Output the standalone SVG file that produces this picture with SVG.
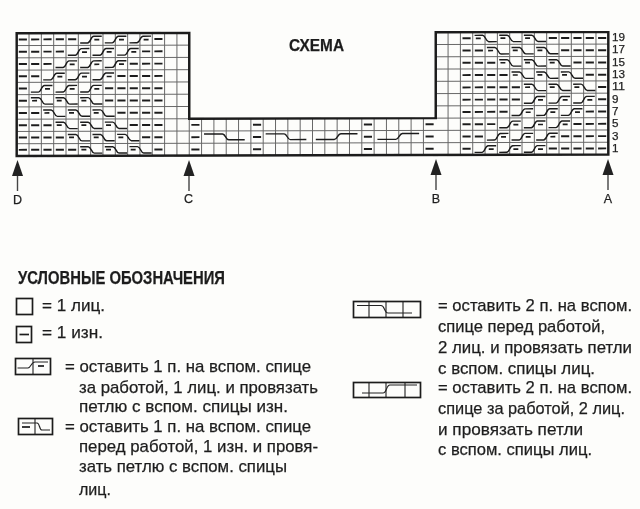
<svg xmlns="http://www.w3.org/2000/svg" xmlns:xlink="http://www.w3.org/1999/xlink" width="640" height="509" viewBox="0 0 640 509">
<style>
text{font-family:"Liberation Sans",Arial,sans-serif;fill:#1f1f1f;stroke:#1f1f1f;stroke-width:.25px}
.t{font-size:17px}
.b{font-weight:700}
.n{font-size:11.5px}
.l{font-size:12.5px}
.g{fill:none;stroke:#666;stroke-width:.08}
.o{fill:none;stroke:#1c1c1c;stroke-width:.2}
.d{fill:none;stroke:#1f1f1f;stroke-width:.16;stroke-dasharray:.66 .34}
.c{fill:none;stroke:#1a1a1a;stroke-width:.115}
.m{fill:none;stroke:#1a1a1a;stroke-width:.14}
.a{fill:#222}
.s{stroke:#444;stroke-width:1.4;fill:none}
.x{fill:none;stroke:#1c1c1c;stroke-width:1.7}
.y{fill:none;stroke:#222;stroke-width:1.1}
</style>
<defs>
<filter id="soft" x="0" y="0" width="1" height="1"><feGaussianBlur stdDeviation=".3"/></filter>
<g id="T"><path class="c" d="M.15 .8H.75C1 .8 1 .26 1.25 .26H1.9"/><path class="m" d="M1.3 .54H1.7"/></g>
<g id="S"><path class="c" d="M.15 .26H.8C1.05 .26 1.05 .78 1.3 .78H1.95"/><path class="m" d="M.25 .5H.65"/></g>
<path id="LS" class="c" d="M.2 .25H1.7C1.95 .25 1.95 .72 2.2 .72H3.5"/>
<path id="LT" class="c" d="M.27 .72H1.76C2.03 .72 2.03 .25 2.3 .25H3.65"/>
<g id="arr"><path class="s" d="M0 14V31"/><path class="a" d="M0 0L5.5 16H-5.5Z"/></g>
</defs>
<rect width="640" height="509" fill="#fdfdfb"/>
<g id="page" filter="url(#soft)">
<g id="chart" transform="matrix(12.325 -.031 0 12.27 16.7 33.3)">
<path class="g" d="M0 1H14M34 1H48M0 2H14M34 2H48M0 3H14M34 3H48M0 4H14M34 4H48M0 5H14M34 5H48M0 6H14M34 6H48M0 7H48M0 8H48M0 9H48M1 0V10M2 0V10M3 0V10M4 0V10M5 0V10M6 0V10M7 0V10M8 0V10M9 0V10M10 0V10M11 0V10M12 0V10M13 0V10M14 7V10M15 7V10M16 7V10M17 7V10M18 7V10M19 7V10M20 7V10M21 7V10M22 7V10M23 7V10M24 7V10M25 7V10M26 7V10M27 7V10M28 7V10M29 7V10M30 7V10M31 7V10M32 7V10M33 7V10M35 0V10M36 0V10M37 0V10M38 0V10M39 0V10M40 0V10M41 0V10M42 0V10M43 0V10M44 0V10M45 0V10M46 0V10M47 0V10"/>
<path class="o" d="M0 0H14V7H34V0H48V10H0Z"/>
<path class="d" d="M.17 .5H4.83M11.17 .5H11.83M.17 1.5H3.83M10.17 1.5H11.83M.17 2.5H2.83M9.17 2.5H11.83M.17 3.5H1.83M8.17 3.5H11.83M.17 4.5H.83M7.17 4.5H11.83M.17 5.5H.83M7.17 5.5H11.83M.17 6.5H1.83M8.17 6.5H11.83M.17 7.5H2.83M9.17 7.5H11.83M.17 8.5H3.83M10.17 8.5H11.83M.17 9.5H4.83M11.17 9.5H11.83"/>
<path class="d" d="M14.17 7.5H14.83M14.17 8.5H14.83M14.17 9.5H14.83M19.17 7.5H19.83M19.17 8.5H19.83M19.17 9.5H19.83M28.17 7.5H28.83M28.17 8.5H28.83M28.17 9.5H28.83M33.17 7.5H33.83M33.17 8.5H33.83M33.17 9.5H33.83"/>
<path class="d" d="M36.17 .5H36.83M43.17 .5H47.83M36.17 1.5H37.83M44.17 1.5H47.83M36.17 2.5H38.83M45.17 2.5H47.83M36.17 3.5H39.83M46.17 3.5H47.83M36.17 4.5H40.83M47.17 4.5H47.83M36.17 5.5H40.83M47.17 5.5H47.83M36.17 6.5H39.83M46.17 6.5H47.83M36.17 7.5H38.83M45.17 7.5H47.83M36.17 8.5H37.83M44.17 8.5H47.83M36.17 9.5H36.83M43.17 9.5H47.83"/>
<g id="left-twists">
<use xlink:href="#T" x="5" y="0"/><use xlink:href="#T" x="7" y="0"/><use xlink:href="#T" x="9" y="0"/>
<use xlink:href="#T" x="4" y="1"/><use xlink:href="#T" x="6" y="1"/><use xlink:href="#T" x="8" y="1"/>
<use xlink:href="#T" x="3" y="2"/><use xlink:href="#T" x="5" y="2"/><use xlink:href="#T" x="7" y="2"/>
<use xlink:href="#T" x="2" y="3"/><use xlink:href="#T" x="4" y="3"/><use xlink:href="#T" x="6" y="3"/>
<use xlink:href="#T" x="1" y="4"/><use xlink:href="#T" x="3" y="4"/><use xlink:href="#T" x="5" y="4"/>
<use xlink:href="#S" x="1" y="5"/><use xlink:href="#S" x="3" y="5"/><use xlink:href="#S" x="5" y="5"/>
<use xlink:href="#S" x="2" y="6"/><use xlink:href="#S" x="4" y="6"/><use xlink:href="#S" x="6" y="6"/>
<use xlink:href="#S" x="3" y="7"/><use xlink:href="#S" x="5" y="7"/><use xlink:href="#S" x="7" y="7"/>
<use xlink:href="#S" x="4" y="8"/><use xlink:href="#S" x="6" y="8"/><use xlink:href="#S" x="8" y="8"/>
<use xlink:href="#S" x="5" y="9"/><use xlink:href="#S" x="7" y="9"/><use xlink:href="#S" x="9" y="9"/>
</g>
<g id="middle-twists">
<use xlink:href="#LS" x="15" y="8"/><use xlink:href="#LS" x="20" y="8"/><use xlink:href="#LT" x="24" y="8"/><use xlink:href="#LT" x="29" y="8"/>
</g>
<g id="right-twists">
<use xlink:href="#S" x="37" y="0"/><use xlink:href="#S" x="39" y="0"/><use xlink:href="#S" x="41" y="0"/>
<use xlink:href="#S" x="38" y="1"/><use xlink:href="#S" x="40" y="1"/><use xlink:href="#S" x="42" y="1"/>
<use xlink:href="#S" x="39" y="2"/><use xlink:href="#S" x="41" y="2"/><use xlink:href="#S" x="43" y="2"/>
<use xlink:href="#S" x="40" y="3"/><use xlink:href="#S" x="42" y="3"/><use xlink:href="#S" x="44" y="3"/>
<use xlink:href="#S" x="41" y="4"/><use xlink:href="#S" x="43" y="4"/><use xlink:href="#S" x="45" y="4"/>
<use xlink:href="#T" x="41" y="5"/><use xlink:href="#T" x="43" y="5"/><use xlink:href="#T" x="45" y="5"/>
<use xlink:href="#T" x="40" y="6"/><use xlink:href="#T" x="42" y="6"/><use xlink:href="#T" x="44" y="6"/>
<use xlink:href="#T" x="39" y="7"/><use xlink:href="#T" x="41" y="7"/><use xlink:href="#T" x="43" y="7"/>
<use xlink:href="#T" x="38" y="8"/><use xlink:href="#T" x="40" y="8"/><use xlink:href="#T" x="42" y="8"/>
<use xlink:href="#T" x="37" y="9"/><use xlink:href="#T" x="39" y="9"/><use xlink:href="#T" x="41" y="9"/>
</g>
</g>
<g id="row-numbers" class="n">
<text x="612" y="41" textLength="13" lengthAdjust="spacingAndGlyphs">19</text>
<text x="612" y="53.3" textLength="13" lengthAdjust="spacingAndGlyphs">17</text>
<text x="612" y="65.6" textLength="13" lengthAdjust="spacingAndGlyphs">15</text>
<text x="612" y="77.9" textLength="13" lengthAdjust="spacingAndGlyphs">13</text>
<text x="612" y="90.2" textLength="13" lengthAdjust="spacingAndGlyphs">11</text>
<text x="612" y="102.5" textLength="6.5" lengthAdjust="spacingAndGlyphs">9</text>
<text x="612" y="114.9" textLength="6.5" lengthAdjust="spacingAndGlyphs">7</text>
<text x="612" y="127.2" textLength="6.5" lengthAdjust="spacingAndGlyphs">5</text>
<text x="612" y="139.5" textLength="6.5" lengthAdjust="spacingAndGlyphs">3</text>
<text x="612" y="151.8" textLength="6.5" lengthAdjust="spacingAndGlyphs">1</text>
</g>
<text id="title" class="b" x="289" y="51" font-size="16.5" textLength="55" lengthAdjust="spacingAndGlyphs">СХЕМА</text>
<g id="arrows">
<use xlink:href="#arr" x="17.5" y="160"/>
<use xlink:href="#arr" x="189" y="160"/>
<use xlink:href="#arr" x="436" y="159"/>
<use xlink:href="#arr" x="608" y="159"/>
</g>
<g id="arrow-labels" class="l" text-anchor="middle">
<text x="17.5" y="204">D</text>
<text x="188.5" y="203">C</text>
<text x="436" y="203">B</text>
<text x="608" y="203">A</text>
</g>
<text id="legend-title" class="b" x="18" y="284" font-size="18" textLength="207" lengthAdjust="spacingAndGlyphs">УСЛОВНЫЕ ОБОЗНАЧЕНИЯ</text>
<g id="key-knit"><rect class="x" x="16.5" y="298.5" width="16" height="16"/><text class="t" x="42" y="311" textLength="63" lengthAdjust="spacingAndGlyphs">= 1 лиц.</text></g>
<g id="key-purl"><rect class="x" x="16.5" y="326.5" width="15" height="16"/><path class="x" d="M19.5 334.5H29"/><text class="t" x="42" y="338" textLength="61" lengthAdjust="spacingAndGlyphs">= 1 изн.</text></g>
<g id="key-t1">
<rect class="x" x="15.5" y="358.5" width="35" height="16"/><path class="y" d="M33 358.5V374.5"/><path class="y" d="M17.5 368H28C31 368 31 362 35 362H48"/><path class="x" d="M38 366H44"/>
<text class="t" x="65" y="372" textLength="246" lengthAdjust="spacingAndGlyphs">= оставить 1 п. на вспом. спице</text>
<text class="t" x="79" y="393" textLength="239" lengthAdjust="spacingAndGlyphs">за работой, 1 лиц. и провязать</text>
<text class="t" x="79" y="412" textLength="209" lengthAdjust="spacingAndGlyphs">петлю с вспом. спицы изн.</text>
</g>
<g id="key-s1">
<rect class="x" x="18.5" y="418.5" width="34" height="16"/><path class="y" d="M35 418.5V434.5"/><path class="y" d="M22 423H37C40 423 39 430 42 430H50"/><path class="x" d="M22 427H30"/>
<text class="t" x="65" y="432" textLength="246" lengthAdjust="spacingAndGlyphs">= оставить 1 п. на вспом. спице</text>
<text class="t" x="79" y="452" textLength="239" lengthAdjust="spacingAndGlyphs">перед работой, 1 изн. и провя-</text>
<text class="t" x="79" y="472" textLength="208" lengthAdjust="spacingAndGlyphs">зать петлю с вспом. спицы</text>
<text class="t" x="79" y="495" textLength="32" lengthAdjust="spacingAndGlyphs">лиц.</text>
</g>
<g id="key-s2">
<rect class="x" x="353.5" y="301.5" width="67" height="16"/><path class="y" d="M369 301.5V317.5M386 301.5V317.5M403 301.5V317.5"/><path class="y" d="M357 305.5H381C385 305.5 384 313 388 313H412"/>
<text class="t" x="438" y="311" textLength="194" lengthAdjust="spacingAndGlyphs">= оставить 2 п. на вспом.</text>
<text class="t" x="438" y="332" textLength="167" lengthAdjust="spacingAndGlyphs">спице перед работой,</text>
<text class="t" x="438" y="353" textLength="194" lengthAdjust="spacingAndGlyphs">2 лиц. и провязать петли</text>
<text class="t" x="438" y="374" textLength="157" lengthAdjust="spacingAndGlyphs">с вспом. спицы лиц.</text>
</g>
<g id="key-t2">
<rect class="x" x="353.5" y="382.5" width="67" height="15"/><path class="y" d="M369 382.5V397.5M386 382.5V397.5M405 382.5V397.5"/><path class="y" d="M362 393H383C387 393 386 385 390 385H417"/>
<text class="t" x="438" y="393" textLength="194" lengthAdjust="spacingAndGlyphs">= оставить 2 п. на вспом.</text>
<text class="t" x="438" y="414" textLength="187" lengthAdjust="spacingAndGlyphs">спице за работой, 2 лиц.</text>
<text class="t" x="438" y="435" textLength="145" lengthAdjust="spacingAndGlyphs">и провязать петли</text>
<text class="t" x="438" y="455" textLength="154" lengthAdjust="spacingAndGlyphs">с вспом. спицы лиц.</text>
</g>
</g>
</svg>
